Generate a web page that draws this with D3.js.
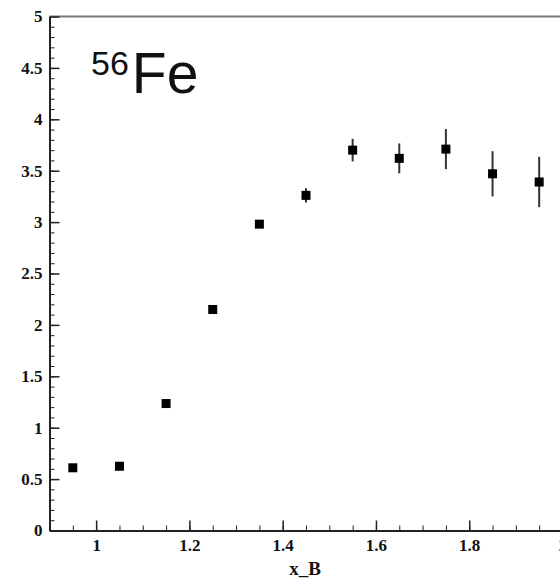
<!DOCTYPE html>
<html>
<head>
<meta charset="utf-8">
<script src="https://cdn.jsdelivr.net/npm/d3@7"></script>
<style>
  body { margin: 0; background: #fff; }
  .axis text { font-family: "Liberation Serif", serif; font-weight: bold; font-size: 17px; fill: #111; }
  .axis path, .axis line { stroke: #222; }
</style>
</head>
<body>
<div id="chart"></div>
<script>
// x_B bin centres, ratio values and their errors
const xB = [0.95, 1.05, 1.15, 1.25, 1.35, 1.45, 1.55, 1.65, 1.75, 1.85, 1.95]
const ratio = [0.61, 0.625, 1.235, 2.15, 2.98, 3.26, 3.70, 3.62, 3.71, 3.47, 3.39]
const err = [0.01, 0.01, 0.01, 0.01, 0.03, 0.07, 0.11, 0.145, 0.195, 0.22, 0.245]

const xMajor = [1, 1.2, 1.4, 1.6, 1.8, 2]
const yMajor = [0, 0.5, 1, 1.5, 2, 2.5, 3, 3.5, 4, 4.5, 5]

const width = 560
const height = 579

const svg = d3.select('#chart').append('svg')
  .attr('width', width)
  .attr('height', height)

const x = d3.scaleLinear().domain([0.9, 2.0]).range([49.5, 562.5])
const y = d3.scaleLinear().domain([0, 5]).range([530.5, 16.5])

// top frame
svg.append('line')
  .attr('x1', x(0.9)).attr('x2', width)
  .attr('y1', y(5)).attr('y2', y(5))
  .attr('stroke', '#777')
  .attr('stroke-width', 2)

// minor ticks
svg.append('g')
  .attr('class', 'axis')
  .attr('transform', 'translate(0,' + y(0) + ')')
  .call(d3.axisBottom(x).tickValues(d3.range(0.95, 2.0, 0.05)).tickSize(-5).tickFormat(''))
  .call(g => g.select('.domain').remove())

svg.append('g')
  .attr('class', 'axis')
  .attr('transform', 'translate(' + x(0.9) + ',0)')
  .call(d3.axisLeft(y).tickValues(d3.range(0.1, 5, 0.1)).tickSize(-5).tickFormat(''))
  .call(g => g.select('.domain').remove())

// major ticks + labels
const xAxis = svg.append('g')
  .attr('class', 'axis')
  .attr('transform', 'translate(0,' + y(0) + ')')
  .call(d3.axisBottom(x).tickValues(xMajor).tickSize(-10).tickSizeOuter(0).tickPadding(8).tickFormat(d3.format('')))
xAxis.select('.domain').attr('stroke-width', 2)
xAxis.selectAll('line').attr('stroke-width', 1.5)

const yAxis = svg.append('g')
  .attr('class', 'axis')
  .attr('transform', 'translate(' + x(0.9) + ',0)')
  .call(d3.axisLeft(y).tickValues(yMajor).tickSize(-10).tickSizeOuter(0).tickPadding(7).tickFormat(d3.format('')))
yAxis.select('.domain').attr('stroke-width', 2)
yAxis.selectAll('line').attr('stroke-width', 1.5)

// axis title
svg.append('text')
  .attr('x', 305)
  .attr('y', 575)
  .attr('text-anchor', 'middle')
  .style('font-family', '"Liberation Serif", serif')
  .style('font-weight', 'bold')
  .style('font-size', '19px')
  .attr('fill', '#111')
  .text('x_B')

// nucleus label
const lbl = svg.append('text')
  .attr('x', 91)
  .attr('y', 93)
  .style('font-family', '"Liberation Sans", Arial, sans-serif')
  .attr('fill', '#111')
lbl.append('tspan')
  .attr('dy', -18)
  .style('font-size', '34px')
  .text('56')
lbl.append('tspan')
  .attr('dy', 18)
  .attr('dx', 3)
  .style('font-size', '57px')
  .text('Fe')

// error bars
const pts = xB.map((d, i) => ({ x: d, y: ratio[i], e: err[i] }))

svg.append('g').selectAll('line.err')
  .data(pts)
  .enter()
  .append('line')
  .attr('class', 'err')
  .attr('x1', d => x(d.x)).attr('x2', d => x(d.x))
  .attr('y1', d => y(d.y - d.e)).attr('y2', d => y(d.y + d.e))
  .attr('stroke', '#333')
  .attr('stroke-width', 2)

// markers
svg.append('g').selectAll('rect.pt')
  .data(pts)
  .enter()
  .append('rect')
  .attr('class', 'pt')
  .attr('x', d => x(d.x) - 4.5)
  .attr('y', d => y(d.y) - 4.5)
  .attr('width', 9)
  .attr('height', 9)
  .attr('fill', '#000')
</script>
</body>
</html>
